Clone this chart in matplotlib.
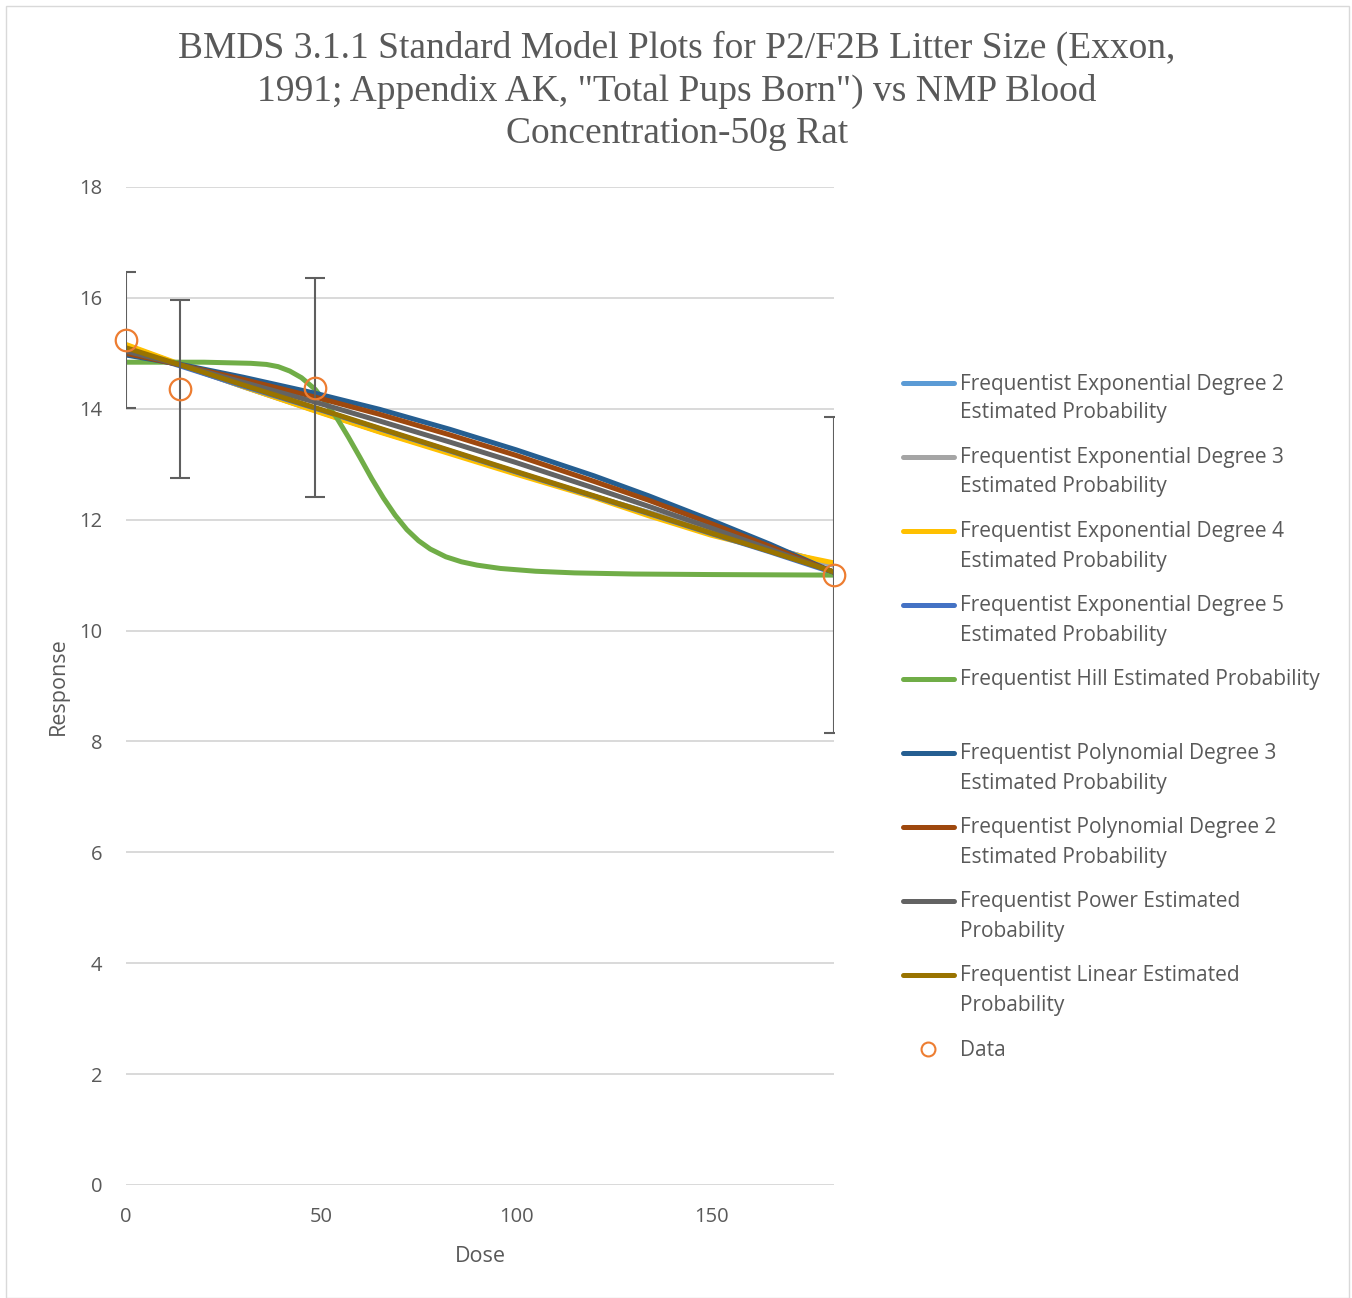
import matplotlib
matplotlib.use("Agg")
import matplotlib.pyplot as plt
from matplotlib.lines import Line2D
from matplotlib.patches import Rectangle

W, H, DPI = 1352, 1298, 100
TEXT = "#595959"
GRID = "#d9d9d9"
SANS = ["Open Sans", "DejaVu Sans"]

# Observed group data: dose, mean response and error-bar half width
dose = [0, 13.9, 48.5, 181.5]
mean_resp = [15.24, 14.36, 14.38, 11.00]
err = [1.22, 1.60, 1.98, 2.85]

# Model curves evaluated on a common dose grid
curve_dose = [0, 14, 30, 48.5, 65, 83, 100, 120, 134, 150, 165, 181.5]
exp2 = [15.14, 14.79, 14.40, 13.97, 13.59, 13.21, 12.84, 12.42, 12.13, 11.80, 11.50, 11.18]
exp3 = [15.14, 14.79, 14.40, 13.97, 13.59, 13.21, 12.84, 12.42, 12.13, 11.80, 11.50, 11.18]
exp4 = [15.16, 14.80, 14.40, 13.96, 13.58, 13.19, 12.82, 12.40, 12.07, 11.72, 11.46, 11.22]
exp5 = [15.08, 14.77, 14.41, 14.01, 13.64, 13.24, 12.86, 12.42, 12.11, 11.75, 11.42, 11.04]
poly3 = [14.97, 14.80, 14.57, 14.28, 13.99, 13.63, 13.26, 12.79, 12.43, 11.99, 11.56, 11.05]
poly2 = [15.00, 14.79, 14.53, 14.21, 13.90, 13.53, 13.16, 12.69, 12.35, 11.93, 11.52, 11.05]
power = [15.04, 14.79, 14.48, 14.12, 13.78, 13.40, 13.03, 12.57, 12.24, 11.85, 11.47, 11.05]
linear = [15.10, 14.79, 14.43, 14.02, 13.65, 13.25, 12.87, 12.43, 12.12, 11.76, 11.43, 11.06]

# Hill model on a finer grid (sharp drop between 40 and 90)
hill_dose = [0, 10, 20, 26, 32, 36, 39, 42, 45, 48.5, 51, 54, 57, 60, 63, 66, 69, 72,
             75, 78, 82, 86, 90, 96, 105, 115, 130, 150, 181.5]
hill = [14.84, 14.84, 14.84, 14.83, 14.82, 14.80, 14.76, 14.68, 14.56, 14.35, 14.13,
        13.84, 13.49, 13.12, 12.74, 12.39, 12.08, 11.82, 11.62, 11.47, 11.33, 11.24,
        11.18, 11.12, 11.07, 11.04, 11.02, 11.01, 11.00]

series = [
    ("Frequentist Exponential Degree 2\nEstimated Probability", curve_dose, exp2, "#5B9BD5"),
    ("Frequentist Exponential Degree 3\nEstimated Probability", curve_dose, exp3, "#A5A5A5"),
    ("Frequentist Exponential Degree 4\nEstimated Probability", curve_dose, exp4, "#FFC000"),
    ("Frequentist Exponential Degree 5\nEstimated Probability", curve_dose, exp5, "#4472C4"),
    ("Frequentist Hill Estimated Probability", hill_dose, hill, "#70AD47"),
    ("Frequentist Polynomial Degree 3\nEstimated Probability", curve_dose, poly3, "#255E91"),
    ("Frequentist Polynomial Degree 2\nEstimated Probability", curve_dose, poly2, "#9E480E"),
    ("Frequentist Power Estimated\nProbability", curve_dose, power, "#636363"),
    ("Frequentist Linear Estimated\nProbability", curve_dose, linear, "#997300"),
]
DATA_COLOR = "#ED7D31"

y_ticks = [0, 2, 4, 6, 8, 10, 12, 14, 16, 18]
x_ticks = [0, 50, 100, 150]

title = ("BMDS 3.1.1 Standard Model Plots for P2/F2B Litter Size (Exxon,\n"
         "1991; Appendix AK, \"Total Pups Born\") vs NMP Blood\n"
         "Concentration-50g Rat")

fig = plt.figure(figsize=(W / DPI, H / DPI), dpi=DPI)
fig.patch.set_facecolor("white")
fig.add_artist(Rectangle((6 / W, 0.0), (1349 - 6) / W, (H - 6) / H,
                         transform=fig.transFigure, fill=False,
                         edgecolor=GRID, linewidth=1.0))

ax = fig.add_axes([126 / W, 1 - 1185 / H, (834 - 126) / W, (1185 - 187) / H])
ax.set_xlim(0, 181.5)
ax.set_ylim(0, 18)
for s in ax.spines.values():
    s.set_visible(False)
ax.set_yticks(y_ticks)
ax.set_xticks(x_ticks)
ax.yaxis.grid(True, color=GRID, linewidth=1.4)
ax.set_axisbelow(True)
ax.tick_params(length=0, colors=TEXT, labelsize=14.5)
ax.tick_params(axis="y", pad=17)
ax.tick_params(axis="x", pad=16)
for lab in ax.get_xticklabels() + ax.get_yticklabels():
    lab.set_family(SANS)

for label, xs, ys, color in series:
    ax.plot(xs, ys, color=color, linewidth=3.6, solid_capstyle="round",
            solid_joinstyle="round")

ax.errorbar(dose, mean_resp, yerr=err, fmt="none", ecolor="#5f5f5f",
            elinewidth=1.5, capsize=7, capthick=1.5, zorder=5)
ax.plot(dose, mean_resp, linestyle="none", marker="o", markersize=15.5,
        markerfacecolor="none", markeredgecolor=DATA_COLOR,
        markeredgewidth=1.6, zorder=6, clip_on=False)

ax.set_xlabel("Dose", fontsize=15.5, color=TEXT, family=SANS)
ax.set_ylabel("Response", fontsize=15.5, color=TEXT, family=SANS)
ax.xaxis.set_label_coords(0.5, (1185 - 1246) / (1185 - 187), transform=ax.transAxes)
ax.yaxis.set_label_coords((69 - 126) / (834 - 126), 0.5, transform=ax.transAxes)

fig.text(677 / W, 1 - 91 / H, title, ha="center", va="center", fontsize=27,
         family=["Liberation Serif", "DejaVu Serif"], color=TEXT,
         linespacing=1.3)

# Legend drawn in figure pixels to the right of the plot
row_y = [383, 457, 531, 605, 679, 753, 827, 901, 975]
for (label, xs, ys, color), y in zip(series, row_y):
    yf = 1 - y / H
    fig.add_artist(Line2D([903 / W, 954 / W], [yf, yf], transform=fig.transFigure,
                          color=color, linewidth=3.6, solid_capstyle="round"))
    for i, line in enumerate(label.split("\n")):
        fig.text(960 / W, 1 - (y + 1 + 29 * i) / H, line, ha="left", va="center",
                 fontsize=15, family=SANS, color=TEXT)
yd = 1 - 1049 / H
fig.add_artist(Line2D([928 / W], [yd], transform=fig.transFigure, linestyle="none",
                      marker="o", markersize=10, markerfacecolor="none",
                      markeredgecolor=DATA_COLOR, markeredgewidth=1.5))
fig.text(960 / W, 1 - 1050 / H, "Data", ha="left", va="center", fontsize=15,
         family=SANS, color=TEXT)

fig.savefig("out.png", dpi=DPI, facecolor="white")
